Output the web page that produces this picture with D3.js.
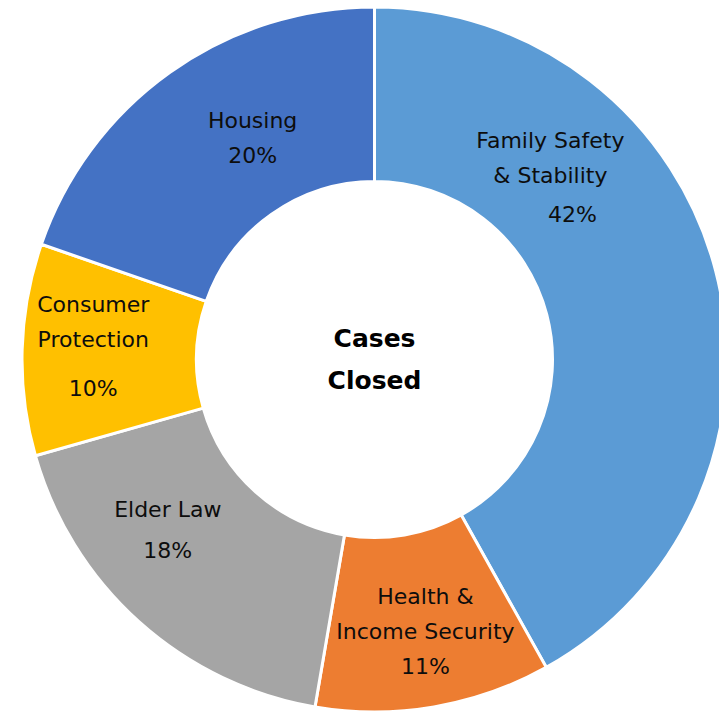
<!DOCTYPE html>
<html>
<head>
<meta charset="utf-8">
<script src="https://cdn.jsdelivr.net/npm/d3@7"></script>
<style>
  body { margin: 0; background: #fff; }
  svg { display: block; }
</style>
</head>
<body>
<div id="chart"></div>
<script>
// Data (share of cases closed, clockwise from 12 o'clock)
const categories = ["Family Safety & Stability", "Health & Income Security", "Elder Law", "Consumer Protection", "Housing"];
const shares = [41.9, 10.8, 17.9, 9.7, 19.7];
const pctLabels = ["42%", "11%", "18%", "10%", "20%"];
const labelLines = [
    ["Family Safety", "& Stability"],
    ["Health &", "Income Security"],
    ["Elder Law"],
    ["Consumer", "Protection"],
    ["Housing"]
];
const colors = ["#5B9BD5", "#ED7D31", "#A5A5A5", "#FFC000", "#4472C4"];

const width = 719, height = 715;
const cx = 374.5, cy = 359.5;
const outerR = 352.5, innerR = 178;

const svg = d3.select("#chart")
    .append("svg")
    .attr("width", width)
    .attr("height", height);

const g = svg.append("g")
    .attr("transform", `translate(${cx},${cy})`);

const pie = d3.pie()
    .sort(null)
    .value(d => d);

const arcs = pie(shares);

const arc = d3.arc()
    .innerRadius(innerR)
    .outerRadius(outerR);

g.selectAll(".slice")
    .data(arcs)
    .enter()
    .append("path")
    .attr("class", "slice")
    .attr("d", arc)
    .attr("fill", (d, i) => colors[i])
    .attr("stroke", "#fff")
    .attr("stroke-width", 3);

// label placement: polar position of each label block (angle in degrees, radius)
const labelPolar = [[43.6, 255], [169.4, 277], [231, 266], [274.2, 282], [331.2, 253]];
// extra nudge for the percentage line
const pctShift = [[22, 4], [0, 0], [0, 6], [0, 14], [0, 0]];
const lineH = 35;
const fontFamily = "'DejaVu Sans', sans-serif";

arcs.forEach((d, i) => {
    const a = labelPolar[i][0] * Math.PI / 180;
    const r = labelPolar[i][1];
    const x = r * Math.sin(a);
    const y = -r * Math.cos(a);
    const lines = labelLines[i];
    const nLines = lines.length + 1;
    const top = y - (nLines - 1) * lineH / 2;

    const t = g.append("text")
        .attr("class", "slice-label")
        .attr("text-anchor", "middle")
        .style("font-family", fontFamily)
        .style("font-size", "22px")
        .style("fill", "#0d0d0d");

    lines.forEach((ln, j) => {
        t.append("tspan")
            .attr("x", x)
            .attr("y", top + j * lineH)
            .attr("dy", "0.35em")
            .text(ln);
    });
    t.append("tspan")
        .attr("x", x + pctShift[i][0])
        .attr("y", top + lines.length * lineH + pctShift[i][1])
        .attr("dy", "0.35em")
        .text(pctLabels[i]);
});

// centre title
const title = g.append("text")
    .attr("text-anchor", "middle")
    .style("font-family", fontFamily)
    .style("font-size", "25px")
    .style("font-weight", "bold")
    .style("fill", "#000");
title.append("tspan").attr("x", 0).attr("y", -21).attr("dy", "0.35em").text("Cases");
title.append("tspan").attr("x", 0).attr("y", 21).attr("dy", "0.35em").text("Closed");
</script>
</body>
</html>
